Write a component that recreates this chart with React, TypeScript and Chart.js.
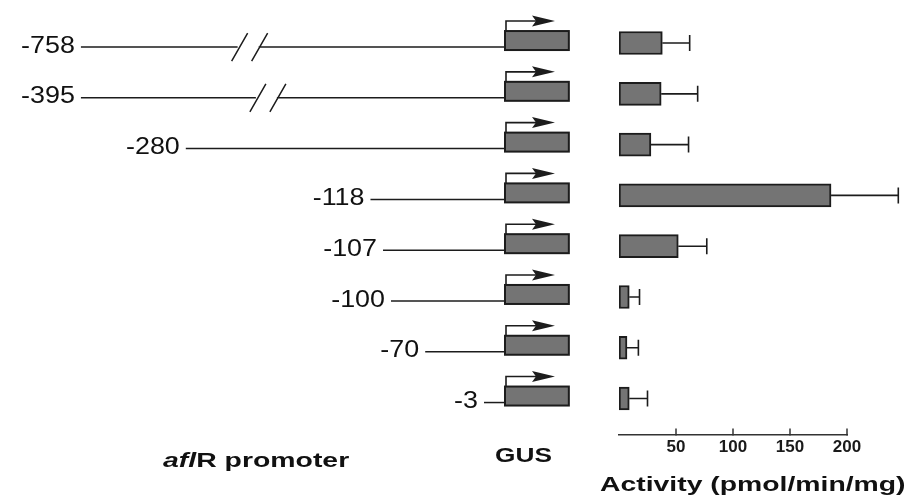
import React, { useEffect, useRef } from "react";
import { Chart, registerables } from "chart.js";

Chart.register(...registerables);

// ---- data ----
const constructs = ["-758", "-395", "-280", "-118", "-107", "-100", "-70", "-3"];
const promoterStart = [-758, -395, -280, -118, -107, -100, -70, -3];
const activity = [38, 37, 28, 186, 52, 9, 7, 9];
const activityErr = [24, 32, 33, 59, 25, 9, 10, 16];
const activityTicks = [50, 100, 150, 200];

// ---- styling constants ----
const INK = "#1c1c1c";
const GRAY = "#747474";
const FONT = "'Liberation Sans', Arial, Helvetica, sans-serif";
const BREAK_LIMIT_BP = -372; // promoter drawn with a break beyond this
const GUS_LENGTH_BP = 56;

function drawText(
  ctx: CanvasRenderingContext2D,
  text: string,
  x: number,
  y: number,
  font: string,
  align: "left" | "right" | "center",
  sx: number,
  baseline: CanvasTextBaseline = "alphabetic"
) {
  ctx.save();
  ctx.font = font;
  ctx.textBaseline = baseline;
  ctx.textAlign = "left";
  const w = ctx.measureText(text).width * sx;
  const left = align === "right" ? x - w : align === "center" ? x - w / 2 : x;
  ctx.translate(left, y);
  ctx.scale(sx, 1);
  ctx.fillText(text, 0, 0);
  ctx.restore();
  return w;
}

const diagramPlugin = {
  id: "promoterDiagram",
  afterDatasetsDraw(chart: any) {
    const ctx: CanvasRenderingContext2D = chart.ctx;
    const xs = chart.scales.x;
    const meta = chart.getDatasetMeta(0);
    ctx.save();
    ctx.strokeStyle = INK;
    ctx.lineWidth = 1.6;
    meta.data.forEach((bar: any, i: number) => {
      const y = bar.y;
      const x0 = bar.x;
      const xe = xs.getPixelForValue(activity[i] + activityErr[i]);
      ctx.beginPath();
      ctx.moveTo(x0, y);
      ctx.lineTo(xe, y);
      ctx.moveTo(xe, y - 8);
      ctx.lineTo(xe, y + 8);
      ctx.stroke();
    });
    ctx.restore();
  },
  afterDraw(chart: any) {
    const ctx: CanvasRenderingContext2D = chart.ctx;
    const xs = chart.scales.x;
    const ys = chart.scales.y;
    const x2 = chart.scales.x2;
    const area = chart.chartArea;

    ctx.save();
    // inward tick marks on the activity axis
    ctx.strokeStyle = "#333";
    ctx.lineWidth = 1.5;
    activityTicks.forEach((t) => {
      const px = xs.getPixelForValue(t);
      ctx.beginPath();
      ctx.moveTo(px, area.bottom + 1);
      ctx.lineTo(px, area.bottom - 6);
      ctx.stroke();
    });

    const boxL = x2.getPixelForValue(0);
    const boxR = x2.getPixelForValue(GUS_LENGTH_BP);

    promoterStart.forEach((bp, i) => {
      const c = ys.getPixelForValue(i);
      const boxTop = c - 12;
      const boxH = 19;
      const lineY = c + 4;
      const broken = bp < BREAK_LIMIT_BP;
      let sx = x2.getPixelForValue(Math.max(bp, BREAK_LIMIT_BP));
      sx = Math.min(sx, boxL - 21);

      ctx.strokeStyle = INK;
      ctx.fillStyle = INK;
      ctx.lineWidth = 1.5;
      ctx.beginPath();
      if (broken) {
        const bx = x2.getPixelForValue(i === 0 ? -224 : -208);
        ctx.moveTo(sx, lineY);
        ctx.lineTo(bx - 12, lineY);
        ctx.moveTo(bx + 9, lineY);
        ctx.lineTo(boxL, lineY);
        for (const d of [-10, 10]) {
          ctx.moveTo(bx + d - 8, lineY + 14);
          ctx.lineTo(bx + d + 8, lineY - 14);
        }
      } else {
        ctx.moveTo(sx, lineY);
        ctx.lineTo(boxL, lineY);
      }
      ctx.stroke();

      // GUS box
      ctx.fillStyle = GRAY;
      ctx.fillRect(boxL, boxTop, boxR - boxL, boxH);
      ctx.lineWidth = 2;
      ctx.strokeRect(boxL, boxTop, boxR - boxL, boxH);

      // transcription start arrow
      const ay = boxTop - 10;
      ctx.lineWidth = 1.6;
      ctx.beginPath();
      ctx.moveTo(boxL + 1, boxTop);
      ctx.lineTo(boxL + 1, ay);
      ctx.lineTo(boxL + 32, ay);
      ctx.stroke();
      ctx.fillStyle = INK;
      ctx.beginPath();
      ctx.moveTo(boxL + 50, ay);
      ctx.lineTo(boxL + 27, ay - 5.5);
      ctx.lineTo(boxL + 31, ay);
      ctx.lineTo(boxL + 27, ay + 5.5);
      ctx.closePath();
      ctx.fill();

      // construct label
      ctx.fillStyle = "#111";
      drawText(ctx, constructs[i], sx - 6, lineY - 1, `24px ${FONT}`, "right", 1.12, "middle");
    });

    // bottom captions
    ctx.fillStyle = "#111";
    const w1 = drawText(ctx, "afl", 163, 467, `italic bold 20px ${FONT}`, "left", 1.42);
    drawText(ctx, "R promoter", 163 + w1, 467, `bold 20px ${FONT}`, "left", 1.42);
    drawText(ctx, "GUS", 495, 462, `bold 21px ${FONT}`, "left", 1.25);
    drawText(ctx, "Activity (pmol/min/mg)", 600, 491, `bold 21px ${FONT}`, "left", 1.35);
    ctx.restore();
  },
};

export default function App() {
  const canvasRef = useRef<HTMLCanvasElement | null>(null);

  useEffect(() => {
    if (!canvasRef.current) return;
    Chart.defaults.font.family = FONT;
    const chart = new Chart(canvasRef.current, {
      type: "bar",
      data: {
        datasets: [
          {
            data: activity.map((v, i) => ({ x: v, y: i })) as any,
            backgroundColor: GRAY,
            borderColor: INK,
            borderWidth: 2,
            borderSkipped: false,
            barThickness: 23,
            xAxisID: "x",
            yAxisID: "y",
          },
        ],
      },
      options: {
        indexAxis: "y",
        animation: false,
        responsive: true,
        maintainAspectRatio: false,
        layout: { padding: { left: 619, right: 63, top: 8, bottom: 35 } },
        plugins: { legend: { display: false }, tooltip: { enabled: false } },
        scales: {
          x: {
            type: "linear",
            position: "bottom",
            min: 0,
            max: 200,
            afterBuildTicks: (s: any) => {
              s.ticks = activityTicks.map((v) => ({ value: v }));
            },
            grid: { display: false, drawTicks: false },
            border: { display: true, color: "#333", width: 1.6 },
            ticks: {
              padding: 3,
              color: "#1a1a1a",
              font: { size: 17, weight: "bold" },
              maxRotation: 0,
            },
          },
          x2: {
            type: "linear",
            position: "bottom",
            display: false,
            min: 100,
            max: 300,
          },
          y: {
            type: "linear",
            reverse: true,
            display: false,
            offset: false,
            grid: { offset: false },
            min: -0.69,
            max: 7.71,
          },
        },
      } as any,
      plugins: [diagramPlugin],
    });
    return () => chart.destroy();
  }, []);

  return (
    <div style={{ position: "fixed", left: 0, top: 0, width: 910, height: 496, background: "#fff" }}>
      <canvas ref={canvasRef} />
    </div>
  );
}
